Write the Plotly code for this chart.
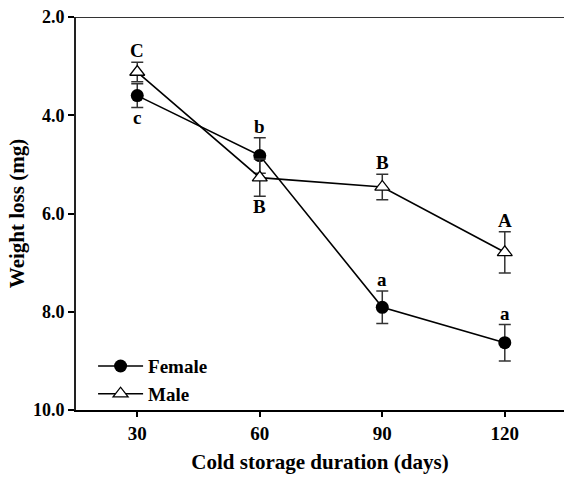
import plotly.graph_objects as go

days = [30, 60, 90, 120]
female = [3.60, 4.82, 7.91, 8.63]
female_err = [0.24, 0.36, 0.33, 0.37]
male = [3.12, 5.27, 5.46, 6.79]
male_err = [0.20, 0.38, 0.26, 0.42]
female_letters = ["c", "b", "a", "a"]
female_pos = ["below", "above", "above", "above"]
male_letters = ["C", "B", "B", "A"]
male_pos = ["above", "below", "above", "above"]
y_ticks = [2, 4, 6, 8, 10]
y_tick_text = ["2.0", "4.0", "6.0", "8.0", "10.0"]

FONT = "Liberation Serif"

fig = go.Figure()
fig.add_trace(go.Scatter(
    x=days, y=female, name="Female", mode="lines+markers",
    line=dict(color="black", width=1.6),
    marker=dict(symbol="circle", size=13, color="black"),
    error_y=dict(type="data", array=female_err, color="#333333", thickness=1.5, width=6),
))
fig.add_trace(go.Scatter(
    x=days, y=male, name="Male", mode="lines+markers",
    line=dict(color="black", width=1.6),
    marker=dict(symbol="triangle-up", size=13, color="white", line=dict(color="black", width=1.3)),
    error_y=dict(type="data", array=male_err, color="#333333", thickness=1.5, width=6),
))

annotations = []
for vals, errs, letters, poss in [(female, female_err, female_letters, female_pos),
                                  (male, male_err, male_letters, male_pos)]:
    for d, v, e, t, p in zip(days, vals, errs, letters, poss):
        if p == "above":
            annotations.append(dict(x=d, y=v - e, text=t, showarrow=False, yanchor="bottom", yshift=-1,
                                    font=dict(family=FONT, size=19, color="black", weight="bold")))
        else:
            annotations.append(dict(x=d, y=v + e, text=t, showarrow=False, yanchor="top", yshift=2,
                                    font=dict(family=FONT, size=19, color="black", weight="bold")))

fig.update_layout(
    width=564, height=481,
    margin=dict(l=76, r=0, t=17, b=71),
    paper_bgcolor="white", plot_bgcolor="white",
    font=dict(family=FONT, size=19, color="black", weight="bold"),
    showlegend=True,
    legend=dict(x=0.035, y=-0.008, xanchor="left", yanchor="bottom", bgcolor="rgba(0,0,0,0)",
                font=dict(family=FONT, size=19, color="black", weight="bold"),
                tracegroupgap=0, itemwidth=45),
    annotations=annotations,
    shapes=[dict(type="line", xref="paper", yref="y", x0=0, x1=1, y0=2, y1=2,
                 line=dict(color="#333333", width=2))],
)
fig.update_xaxes(
    range=[15, 134.5], tickvals=days, ticks="outside", ticklen=5, tickwidth=1.5, tickcolor="black",
    showline=True, linecolor="black", linewidth=1.5, showgrid=False, zeroline=False,
    title=dict(text="Cold storage duration (days)", font=dict(family=FONT, size=21, color="black", weight="bold"), standoff=12),
    tickfont=dict(family=FONT, size=19, color="black", weight="bold"),
)
fig.update_yaxes(
    range=[10, 2], tickvals=y_ticks, ticktext=y_tick_text, ticks="outside", ticklen=6, tickwidth=1.5,
    tickcolor="black", showline=True, linecolor="#222222", linewidth=2, showgrid=False, zeroline=False,
    title=dict(text="Weight loss (mg)", font=dict(family=FONT, size=21, color="black", weight="bold"), standoff=3),
    tickfont=dict(family=FONT, size=18, color="black", weight="bold"),
)

fig.write_html("out.html")
